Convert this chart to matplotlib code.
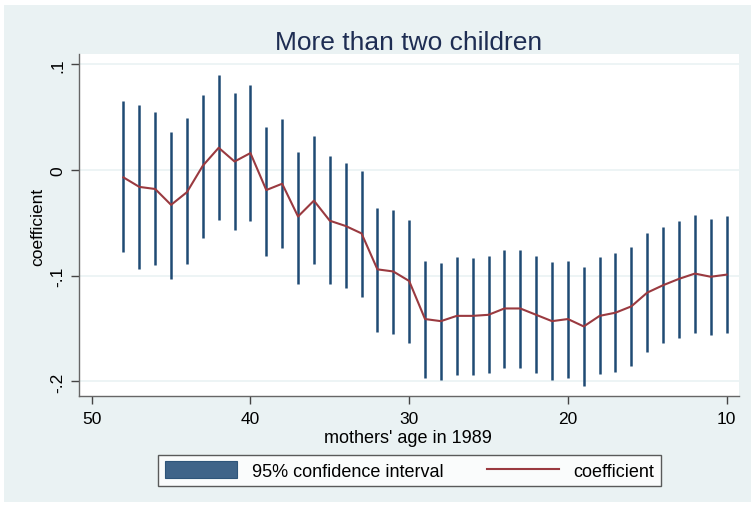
import matplotlib
matplotlib.use("Agg")
import matplotlib.pyplot as plt
from matplotlib.patches import Patch, Rectangle
from matplotlib.lines import Line2D

# ---- data ----
ages = [48, 47, 46, 45, 44, 43, 42, 41, 40, 39, 38, 37, 36, 35, 34, 33, 32, 31, 30,
        29, 28, 27, 26, 25, 24, 23, 22, 21, 20, 19, 18, 17, 16, 15, 14, 13, 12, 11, 10]
coef = [-0.007, -0.016, -0.018, -0.033, -0.021, 0.004, 0.021, 0.008, 0.016, -0.019,
        -0.013, -0.044, -0.029, -0.048, -0.053, -0.060, -0.094, -0.096, -0.105,
        -0.141, -0.143, -0.138, -0.138, -0.137, -0.131, -0.131, -0.137, -0.143,
        -0.141, -0.148, -0.138, -0.135, -0.129, -0.116, -0.109, -0.103, -0.098,
        -0.101, -0.099]
upper = [0.065, 0.061, 0.055, 0.036, 0.049, 0.071, 0.090, 0.073, 0.080, 0.041,
         0.048, 0.017, 0.032, 0.013, 0.007, -0.001, -0.036, -0.038, -0.047,
         -0.086, -0.088, -0.082, -0.083, -0.081, -0.076, -0.076, -0.081, -0.087,
         -0.086, -0.092, -0.082, -0.079, -0.073, -0.060, -0.054, -0.048, -0.043,
         -0.046, -0.044]
lower = [-0.078, -0.094, -0.090, -0.103, -0.089, -0.064, -0.047, -0.057, -0.048,
         -0.081, -0.074, -0.108, -0.089, -0.108, -0.112, -0.120, -0.153, -0.155,
         -0.164, -0.197, -0.199, -0.194, -0.194, -0.192, -0.187, -0.187, -0.192,
         -0.199, -0.197, -0.204, -0.193, -0.191, -0.185, -0.172, -0.164, -0.159,
         -0.154, -0.156, -0.154]
xticks = [50, 40, 30, 20, 10]
yticks = [0.1, 0.0, -0.1, -0.2]
ytick_labels = [".1", "0", "-.1", "-.2"]
title = "More than two children"
xlabel = "mothers' age in 1989"
ylabel = "coefficient"
legend_labels = ["95% confidence interval", "coefficient"]

# ---- style ----
BG = "#EAF2F3"
BAR = "#1F4A74"
LINE = "#9A3A40"
TITLE_C = "#1E2D53"
plt.rcParams['font.family'] = ['Liberation Sans', 'DejaVu Sans']

W, H = 751, 506
fig = plt.figure(figsize=(W / 100, H / 100), dpi=100)
fig.patch.set_facecolor("white")
# outer graph region
fig.patches.append(Rectangle((4 / W, 3 / H), (W - 4) / W, (H - 9) / H,
                             transform=fig.transFigure, facecolor=BG,
                             edgecolor="none", zorder=-10))

l, r, t, b = 79, 739.3, 55, 397
ax = fig.add_axes([l / W, (H - b) / H, (r - l) / W, (b - t) / H])
ax.set_facecolor("white")

ax.vlines(ages, lower, upper, colors=BAR, linewidth=1.8, zorder=3)
ax.plot(ages, coef, color=LINE, linewidth=1.5, zorder=4)

ax.set_xlim(50.8, 9.2)
ax.set_ylim(-0.2138, 0.1097)
ax.set_xticks(xticks)
ax.set_xticklabels([str(v) for v in xticks])
ax.set_yticks(yticks)
ax.set_yticklabels(ytick_labels, rotation=90, va="center")
ax.yaxis.grid(True, color=BG, linewidth=1.2, zorder=0)
ax.xaxis.grid(False)
ax.set_axisbelow(True)

for s in ["top", "right"]:
    ax.spines[s].set_visible(False)
for s in ["left", "bottom"]:
    ax.spines[s].set_color("#666666")
    ax.spines[s].set_linewidth(1.0)
ax.tick_params(axis="both", colors="#444444", labelcolor="black",
               labelsize=12.5, length=6, width=1.0)
ax.tick_params(axis="x", pad=5)
ax.tick_params(axis="y", pad=4)

fig.text(408.3 / W, (H - 50) / H, title, ha="center", va="baseline",
         fontsize=19, color=TITLE_C)
fig.text(408 / W, (H - 443) / H, xlabel, ha="center", va="baseline",
         fontsize=13, color="black")
fig.text(38 / W, (H - 227) / H, ylabel, ha="center", va="center",
         rotation=90, fontsize=12.5, color="black")

handles = [Patch(facecolor="#3F6489", edgecolor="#2E557A", linewidth=0.8),
           Line2D([0], [0], color=LINE, linewidth=1.5)]
leg = fig.legend(handles, legend_labels, loc="center", ncol=2,
                 bbox_to_anchor=(409.5 / W, (H - 471.5) / H),
                 fontsize=13, frameon=True, fancybox=False,
                 handlelength=4.0, handleheight=1.0, handletextpad=0.8,
                 columnspacing=2.4, borderpad=0.38, borderaxespad=0)
leg.get_frame().set_edgecolor("#333333")
leg.get_frame().set_linewidth(1.0)
leg.get_frame().set_facecolor("white")

fig.savefig("out.png", dpi=100, facecolor=fig.get_facecolor())
